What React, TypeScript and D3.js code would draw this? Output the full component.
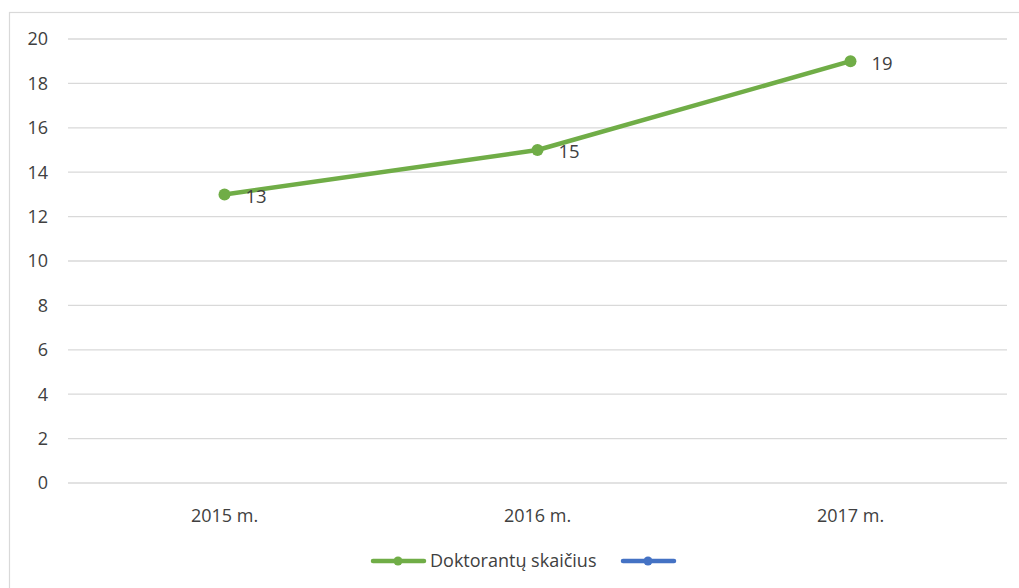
import React from "react";
import * as d3 from "d3";

const categories = ["2015 m.", "2016 m.", "2017 m."];
const values = [13, 15, 19];
const yTicks = [0, 2, 4, 6, 8, 10, 12, 14, 16, 18, 20];
const seriesName = "Doktorantų skaičius";

const W = 1019;
const H = 588;
const FONT = "Open Sans, Noto Sans, sans-serif";

export default function App() {
  const x = d3.scaleBand<string>().domain(categories).range([68, 1007]);
  const y = d3.scaleLinear().domain([0, 20]).range([483, 39]);
  const line = d3
    .line<number>()
    .x((_, i) => (x(categories[i]) as number) + x.bandwidth() / 2)
    .y((d) => y(d));

  return (
    <svg
      width={W}
      height={H}
      style={{ position: "absolute", left: 0, top: 0, background: "#fff" }}
    >
      <rect x={9.5} y={12.5} width={1020} height={600} fill="#fff" stroke="#d9d9d9" strokeWidth={1.2} />
      {yTicks.map((t) => (
        <g key={t}>
          <line x1={68} x2={1007} y1={y(t)} y2={y(t)} stroke="#d9d9d9" strokeWidth={1.3} />
          <text
            x={48}
            y={y(t)}
            dy="0.35em"
            textAnchor="end"
            fontSize={18}
            fontFamily={FONT}
            fill="#404040"
          >
            {t}
          </text>
        </g>
      ))}
      {categories.map((c) => (
        <text
          key={c}
          x={(x(c) as number) + x.bandwidth() / 2}
          y={516}
          dy="0.35em"
          textAnchor="middle"
          fontSize={18}
          fontFamily={FONT}
          fill="#404040"
        >
          {c}
        </text>
      ))}
      <path d={line(values) || ""} fill="none" stroke="#70ad47" strokeWidth={4.5} strokeLinejoin="round" strokeLinecap="round" />
      {values.map((v, i) => {
        const cx = (x(categories[i]) as number) + x.bandwidth() / 2;
        return (
          <g key={i}>
            <circle cx={cx} cy={y(v)} r={6} fill="#70ad47" />
            <text
              x={cx + 21}
              y={y(v) + 2}
              dy="0.35em"
              fontSize={18.5}
              fontFamily={FONT}
              fill="#404040"
            >
              {v}
            </text>
          </g>
        );
      })}
      <g>
        <line x1={373} x2={424} y1={561} y2={561} stroke="#70ad47" strokeWidth={4.5} strokeLinecap="round" />
        <circle cx={398} cy={561} r={4.5} fill="#70ad47" />
        <text x={430} y={561} dy="0.35em" fontSize={18} fontFamily={FONT} fill="#404040">
          {seriesName}
        </text>
        <line x1={623} x2={674} y1={561} y2={561} stroke="#4472c4" strokeWidth={4.5} strokeLinecap="round" />
        <circle cx={648} cy={561} r={4.5} fill="#4472c4" />
      </g>
    </svg>
  );
}
